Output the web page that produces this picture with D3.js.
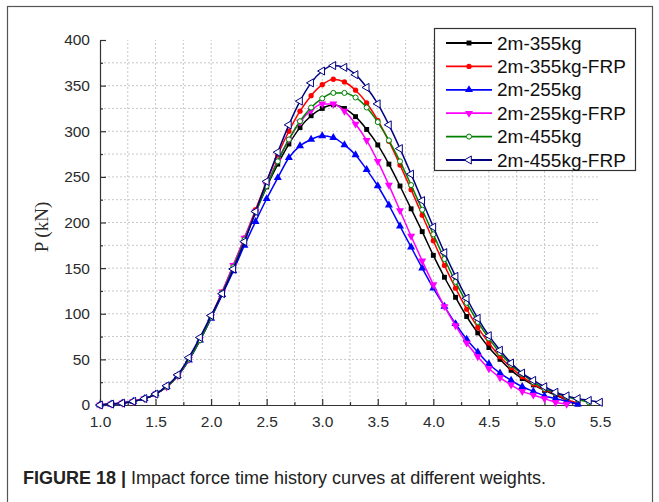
<!DOCTYPE html>
<html>
<head>
<meta charset="utf-8">
<script src="https://cdn.jsdelivr.net/npm/d3@7"></script>
<style>
  body { margin: 0; background: #fff; }
</style>
</head>
<body>
<div id="chart"></div>
<script>
// time axis (s) and tick labels
const time = [1.0, 1.1, 1.2, 1.3, 1.4, 1.5, 1.6, 1.7, 1.8, 1.9, 2.0, 2.1, 2.2, 2.3, 2.4, 2.5, 2.6, 2.7, 2.8, 2.9,
  3.0, 3.1, 3.2, 3.3, 3.4, 3.5, 3.6, 3.7, 3.8, 3.9, 4.0, 4.1, 4.2, 4.3, 4.4, 4.5, 4.6, 4.7, 4.8, 4.9,
  5.0, 5.1, 5.2, 5.3, 5.4, 5.5];
const xTicks = [1.0, 1.5, 2.0, 2.5, 3.0, 3.5, 4.0, 4.5, 5.0, 5.5];
const yTicks = [0, 50, 100, 150, 200, 250, 300, 350, 400];

const seriesNames = ["2m-355kg", "2m-355kg-FRP", "2m-255kg", "2m-255kg-FRP", "2m-455kg", "2m-455kg-FRP"];

// impact force P (kN), one value per time step, null = no point
const p355 = [0, 1, 2, 4, 7, 12, 20, 32, 50, 71, 96, 122, 150, 180, 211, 239, 264, 286, 304, 317,
  325, 329, 325, 316, 302, 285, 264, 240, 215, 190, 164, 140, 118, 97, 79, 63, 50, 38, 29, 22,
  16, 11, 5, 1, null, null];
const p355FRP = [0, 1, 2, 4, 7, 12, 20, 32, 50, 72, 97, 124, 153, 183, 214, 245, 274, 300, 322, 339,
  351, 357, 354, 345, 331, 312, 289, 263, 236, 208, 180, 153, 128, 105, 85, 68, 53, 41, 31, 23,
  17, 12, 6, 2, null, null];
const p255 = [0, 1, 2, 4, 7, 12, 20, 32, 49, 71, 95, 121, 147, 175, 201, 226, 249, 271, 284, 291,
  295, 293, 285, 274, 258, 240, 219, 196, 173, 150, 128, 108, 89, 72, 58, 45, 35, 27, 20, 15,
  10, 7, 4, 1, null, null];
const p255FRP = [0, 1, 2, 4, 7, 12, 20, 32, 50, 72, 97, 124, 153, 183, 212, 241, 268, 291, 310, 323,
  330, 330, 322, 308, 290, 267, 241, 213, 185, 158, 132, 108, 87, 68, 53, 40, 30, 22, 15, 11,
  7, 3, 1, null, null, null];
const p455 = [0, 1, 2, 4, 7, 12, 20, 32, 50, 71, 96, 123, 151, 181, 211, 240, 267, 291, 311, 326,
  336, 342, 342, 337, 326, 310, 290, 267, 241, 214, 187, 160, 135, 112, 91, 73, 57, 44, 34, 25,
  18, 13, 9, 6, 3, null];
const p455FRP = [0, 1, 2, 4, 7, 12, 21, 33, 52, 74, 98, 122, 149, 179, 212, 245, 277, 307, 333, 353,
  366, 372, 370, 362, 348, 330, 307, 281, 253, 224, 195, 167, 141, 117, 95, 76, 60, 46, 35, 27,
  20, 14, 10, 7, 5, 3];

const seriesValues = [p355, p355FRP, p255, p255FRP, p455, p455FRP];

const colorPalette = {
  series: ["#000000", "#ff0000", "#0000ff", "#ff00ff", "#008000", "#000080"],
  text: "#2b2b2b",
  axis: "#333333",
  grid: "#c8c8c8",
  frame: "#555555",
};

const config = {
  width: 659,
  height: 502,
  plotLeft: 100,
  plotRight: 600,
  plotTop: 40,
  plotBottom: 405,
  legendX: 434,
  legendY: 28,
  legendW: 201,
  legendH: 142,
  legendRow: 23.4,
  font: "'Liberation Sans', Arial, sans-serif",
};

// marker shapes per series: [symbol, rotate, filled, size]
const markers = [
  [d3.symbolSquare, 0, true, 24],
  [d3.symbolCircle, 0, true, 22],
  [d3.symbolTriangle, 0, true, 28],
  [d3.symbolTriangle, 180, true, 28],
  [d3.symbolCircle, 0, false, 20],
  [d3.symbolTriangle, -90, false, 28],
];

const svg = d3.select("#chart")
  .append("svg")
  .attr("width", config.width)
  .attr("height", config.height)
  .style("display", "block");

// figure frame
svg.append("rect")
  .attr("x", 7.5).attr("y", 6.5)
  .attr("width", 645).attr("height", 520)
  .attr("fill", "none")
  .attr("stroke", colorPalette.frame)
  .attr("stroke-width", 1.2);

const x = d3.scaleLinear().domain([1.0, 5.5]).range([config.plotLeft, config.plotRight]);
const y = d3.scaleLinear().domain([0, 400]).range([config.plotBottom, config.plotTop]);

// dotted grid on minor steps
const xGrid = d3.range(1.25, 5.5, 0.25);
const yGrid = d3.range(25, 400, 25);
const grid = svg.append("g").attr("class", "grid");
grid.selectAll("line.v").data(xGrid).enter().append("line")
  .attr("x1", (d) => x(d)).attr("x2", (d) => x(d))
  .attr("y1", y(0)).attr("y2", y(400))
  .attr("stroke", colorPalette.grid)
  .attr("stroke-dasharray", "2,2");
grid.selectAll("line.h").data(yGrid).enter().append("line")
  .attr("x1", x(1.0)).attr("x2", x(5.5))
  .attr("y1", (d) => y(d)).attr("y2", (d) => y(d))
  .attr("stroke", colorPalette.grid)
  .attr("stroke-dasharray", "2,2");

// axes (ticks point inward)
const xAxis = d3.axisBottom(x).tickValues(xTicks).tickSize(-6).tickSizeOuter(0)
  .tickPadding(11).tickFormat(d3.format(".1f"));
const yAxis = d3.axisLeft(y).tickValues(yTicks).tickSize(-6).tickSizeOuter(0).tickPadding(10);

svg.append("g").attr("class", "xAxis")
  .attr("transform", `translate(0,${config.plotBottom})`).call(xAxis);
svg.append("g").attr("class", "yAxis")
  .attr("transform", `translate(${config.plotLeft},0)`).call(yAxis);

svg.append("g").attr("transform", `translate(0,${config.plotBottom})`)
  .call(d3.axisBottom(x).tickValues(d3.range(1.25, 5.5, 0.5)).tickSize(-3).tickSizeOuter(0).tickFormat(""))
  .select(".domain").remove();
svg.append("g").attr("transform", `translate(${config.plotLeft},0)`)
  .call(d3.axisLeft(y).tickValues(d3.range(25, 400, 50)).tickSize(-3).tickSizeOuter(0).tickFormat(""))
  .select(".domain").remove();

svg.selectAll(".domain, .tick line")
  .attr("stroke", colorPalette.axis)
  .attr("stroke-width", 1.2);
svg.selectAll(".xAxis text, .yAxis text")
  .style("font-family", config.font)
  .style("font-size", "15.5px")
  .attr("fill", colorPalette.text);

// y axis title
svg.append("text")
  .text("P (kN)")
  .attr("transform", "translate(48,227) rotate(-90)")
  .attr("text-anchor", "middle")
  .style("font-family", "'Liberation Serif', 'Times New Roman', serif")
  .style("font-size", "19px")
  .attr("fill", colorPalette.text);

// curves
const line = d3.line()
  .defined((d) => d.p !== null)
  .x((d) => x(d.t))
  .y((d) => y(d.p))
  .curve(d3.curveMonotoneX);

function markerPath(i) {
  return d3.symbol().type(markers[i][0]).size(markers[i][3])();
}

seriesValues.forEach((vals, i) => {
  const pts = time.map((t, k) => ({ t: t, p: vals[k] }));
  const g = svg.append("g").attr("class", `series-${i}`);
  g.append("path")
    .datum(pts)
    .attr("d", line)
    .attr("fill", "none")
    .attr("stroke", colorPalette.series[i])
    .attr("stroke-width", 1.5);
  g.selectAll("path.marker")
    .data(pts.filter((d) => d.p !== null))
    .enter()
    .append("path")
    .attr("class", "marker")
    .attr("d", markerPath(i))
    .attr("transform", (d) => `translate(${x(d.t)},${y(d.p)}) rotate(${markers[i][1]})`)
    .attr("fill", markers[i][2] ? colorPalette.series[i] : "#fff")
    .attr("stroke", colorPalette.series[i])
    .attr("stroke-width", markers[i][2] ? 0 : 1);
});

// legend
const legend = svg.append("g").attr("class", "legend");
legend.append("rect")
  .attr("x", config.legendX + 0.5).attr("y", config.legendY + 0.5)
  .attr("width", config.legendW).attr("height", config.legendH)
  .attr("fill", "#fff")
  .attr("stroke", colorPalette.axis)
  .attr("stroke-width", 1.2);

const rows = legend.selectAll("g.row")
  .data(seriesNames)
  .enter()
  .append("g")
  .attr("class", "row")
  .attr("transform", (d, i) => `translate(0,${config.legendY + 15 + i * config.legendRow})`);

rows.append("line")
  .attr("x1", 446).attr("x2", 492)
  .attr("stroke", (d, i) => colorPalette.series[i])
  .attr("stroke-width", 1.8);
rows.append("path")
  .attr("d", (d, i) => markerPath(i))
  .attr("transform", (d, i) => `translate(469,0) rotate(${markers[i][1]})`)
  .attr("fill", (d, i) => (markers[i][2] ? colorPalette.series[i] : "#fff"))
  .attr("stroke", (d, i) => colorPalette.series[i])
  .attr("stroke-width", (d, i) => (markers[i][2] ? 0 : 1));
rows.append("text")
  .text((d) => d)
  .attr("x", 497)
  .attr("dy", "0.35em")
  .style("font-family", config.font)
  .style("font-size", "19px")
  .attr("fill", "#111");

// caption
const caption = svg.append("text")
  .attr("x", 23)
  .attr("y", 484)
  .style("font-family", config.font)
  .style("font-size", "18px")
  .attr("fill", "#222");
caption.append("tspan").text("FIGURE 18 | ").style("font-weight", "bold");
caption.append("tspan").text("Impact force time history curves at different weights.");
</script>
</body>
</html>
